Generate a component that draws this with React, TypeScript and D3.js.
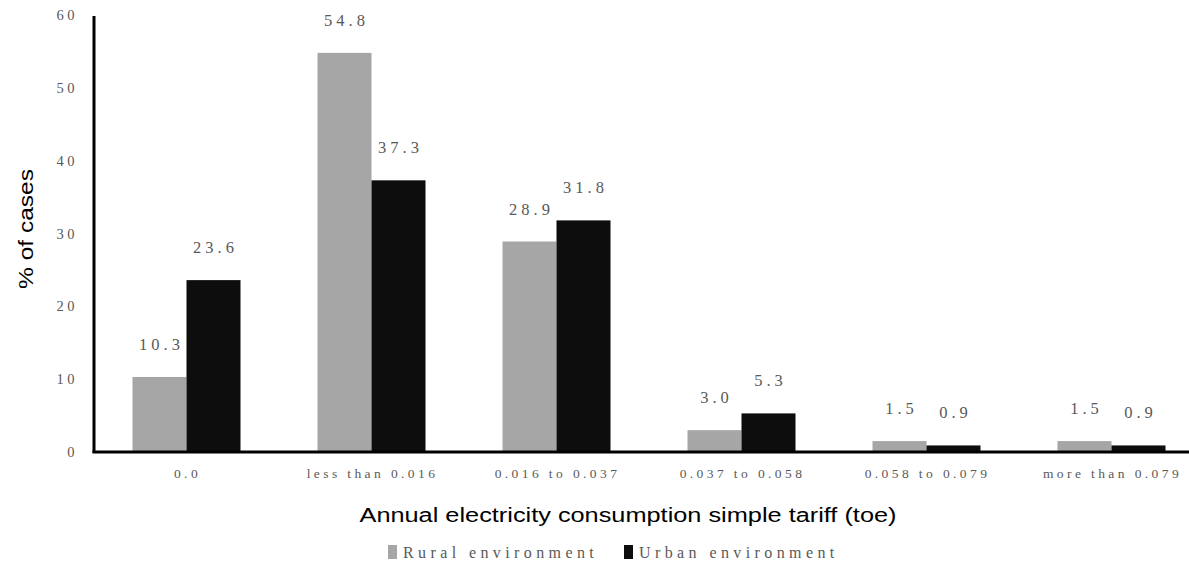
import React from "react";
import * as d3 from "d3";

const categories = ["0.0", "less than 0.016", "0.016 to 0.037", "0.037 to 0.058", "0.058 to 0.079", "more than 0.079"];
const rural = [10.3, 54.8, 28.9, 3.0, 1.5, 1.5];
const urban = [23.6, 37.3, 31.8, 5.3, 0.9, 0.9];
const yTicks = [0, 10, 20, 30, 40, 50, 60];
const seriesNames = ["Rural environment", "Urban environment"];
const colors = ["#a6a6a6", "#0d0d0d"];

const W = 1189;
const H = 563;
const left = 94;
const bandW = 185;
const top = 15;
const bottom = 452;

export default function App() {
  const x = d3.scaleBand<string>().domain(categories).range([left, left + bandW * categories.length]).paddingInner(0).paddingOuter(0);
  const inner = d3.scaleBand<string>().domain(["r", "u"]).range([0, x.bandwidth()]).paddingOuter(0.713).paddingInner(0);
  const y = d3.scaleLinear().domain([0, 60]).range([bottom, top]);
  const serif = "'Liberation Serif', 'Times New Roman', serif";
  const sans = "'Liberation Sans', Arial, sans-serif";
  const labelColor = "#595959";
  const series = [rural, urban];
  const keys = ["r", "u"];

  return (
    <svg width={W} height={H} style={{ position: "absolute", left: 0, top: 0, background: "#fff" }}>
      {/* bars */}
      {series.map((vals, si) =>
        vals.map((v, i) => {
          const bx = (x(categories[i]) as number) + (inner(keys[si]) as number);
          const bw = inner.bandwidth();
          return <rect key={`b${si}-${i}`} x={bx} y={y(v)} width={bw} height={bottom - y(v)} fill={colors[si]} />;
        })
      )}
      {/* value labels */}
      {series.map((vals, si) =>
        vals.map((v, i) => {
          const bx = (x(categories[i]) as number) + (inner(keys[si]) as number) + inner.bandwidth() / 2;
          return (
            <text key={`l${si}-${i}`} x={bx + 2} y={y(v) - 27} textAnchor="middle" fontFamily={serif} fontSize={16.5} letterSpacing={4} fill={labelColor}>
              {v.toFixed(1)}
            </text>
          );
        })
      )}
      {/* axes */}
      <line x1={left} x2={left} y1={top + 1} y2={bottom + 1} stroke="#000" strokeWidth={3} />
      <line x1={left - 1.5} x2={W} y1={bottom} y2={bottom} stroke="#000" strokeWidth={3} />
      {yTicks.map((t) => (
        <text key={`t${t}`} x={78} y={y(t) + 5} textAnchor="end" fontFamily={serif} fontSize={14.5} letterSpacing={3.5} fill={labelColor}>
          {t}
        </text>
      ))}
      {categories.map((c) => (
        <text key={`c${c}`} x={(x(c) as number) + x.bandwidth() / 2 + 1} y={478} textAnchor="middle" fontFamily={serif} fontSize={13.5} letterSpacing={3.4} fill={labelColor}>
          {c}
        </text>
      ))}
      {/* axis titles */}
      <text x={628} y={522} textAnchor="middle" fontFamily={sans} fontSize={20} textLength={537} lengthAdjust="spacingAndGlyphs" fill="#000">
        Annual electricity consumption simple tariff (toe)
      </text>
      <text transform="translate(33,229) rotate(-90)" textAnchor="middle" fontFamily={sans} fontSize={21} textLength={120} lengthAdjust="spacingAndGlyphs" fill="#000">
        % of cases
      </text>
      {/* legend */}
      {seriesNames.map((n, i) => {
        const lx = i === 0 ? 388 : 624;
        return (
          <g key={`lg${i}`}>
            <rect x={lx} y={545} width={9} height={14} fill={colors[i]} />
            <text x={lx + 15} y={558} fontFamily={serif} fontSize={16} letterSpacing={4.4} fill={labelColor}>
              {n}
            </text>
          </g>
        );
      })}
    </svg>
  );
}
